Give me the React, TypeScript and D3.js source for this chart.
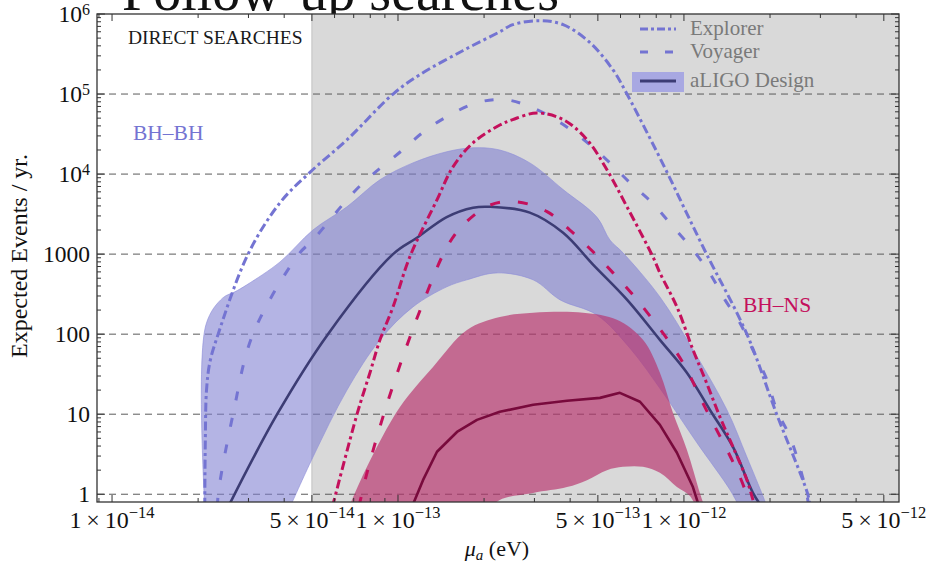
import React, { useEffect, useRef } from "react";
import * as d3 from "d3";

// [mu_a (eV), expected events / yr]
const bhbhExplorer = [
  [2.11e-14, 0.7], [2.12e-14, 5], [2.14e-14, 20], [2.2e-14, 45], [2.35e-14, 100],
  [2.99e-14, 1000], [3.87e-14, 4400], [4.92e-14, 1.05e4], [6.63e-14, 2.68e4],
  [9.61e-14, 1.0e5], [1.19e-13, 1.74e5], [1.69e-13, 3.5e5], [2.27e-13, 6.0e5],
  [2.52e-13, 7.35e5], [3.14e-13, 8.25e5], [3.78e-13, 7.35e5], [4.69e-13, 4.4e5],
  [5.65e-13, 2.0e5], [6.32e-13, 1.0e5], [7.43e-13, 3.3e4], [8.79e-13, 1.0e4],
  [1.02e-12, 3.3e3], [1.2e-12, 1000], [1.66e-12, 100], [2.11e-12, 10],
  [2.71e-12, 1], [2.76e-12, 0.7],
];

const bhbhVoyager = [
  [2.34e-14, 0.7], [2.35e-14, 1], [2.65e-14, 10], [3.11e-14, 100], [4.5e-14, 1000],
  [5.04e-14, 1.5e3], [6.96e-14, 5.8e3], [8.18e-14, 1.0e4], [1.02e-13, 1.9e4],
  [1.22e-13, 3.3e4], [1.48e-13, 5.2e4], [1.89e-13, 7.8e4], [2.37e-13, 8.5e4],
  [2.97e-13, 6.7e4], [3.69e-13, 4.4e4], [4.58e-13, 2.5e4], [5.51e-13, 1.38e4],
  [6.47e-13, 7.8e3], [7.73e-13, 4.4e3], [9.15e-13, 2.2e3], [1.075e-12, 1.13e3],
  [1.23e-12, 580], [1.39e-12, 270], [1.57e-12, 138], [1.74e-12, 64],
  [1.95e-12, 27], [2.11e-12, 11.3], [2.35e-12, 5.2], [2.54e-12, 2.2],
  [2.69e-12, 1], [2.73e-12, 0.7],
];

const bhbhDesign = [
  [2.55e-14, 0.7], [3.78e-14, 10], [5.69e-14, 100], [9.61e-14, 1000],
  [1.165e-13, 1.6e3], [1.48e-13, 2.9e3], [1.83e-13, 3.8e3], [2.1e-13, 3.9e3],
  [2.89e-13, 3.3e3], [3.78e-13, 1.85e3], [4.81e-13, 740], [6.32e-13, 270],
  [8.24e-13, 85], [1.024e-12, 33], [1.233e-12, 11.3], [1.484e-12, 3.9],
  [1.743e-12, 1.04], [1.87e-12, 0.7],
];

const bhbhBandUpper = [
  [2.11e-14, 0.7], [2.13e-14, 131], [2.44e-14, 284], [2.69e-14, 338],
  [2.96e-14, 413], [3.87e-14, 800], [5.04e-14, 2.0e3], [6.63e-14, 3.9e3],
  [8.65e-14, 8.5e3], [1.128e-13, 1.38e4], [1.48e-13, 1.9e4], [1.83e-13, 2.13e4],
  [2.27e-13, 2.0e4], [2.89e-13, 1.38e4], [3.78e-13, 6.4e3], [4.96e-13, 2.9e3],
  [5.51e-13, 1.5e3], [6.12e-13, 1.04e3], [8.24e-13, 292], [1.075e-12, 64],
  [1.414e-12, 11.3], [1.661e-12, 2.9], [1.889e-12, 0.95], [1.95e-12, 0.7],
];

const bhbhBandLower = [
  [4.2e-14, 0.7], [5.04e-14, 2.9], [6.63e-14, 20], [8.65e-14, 85],
  [1.128e-13, 219], [1.48e-13, 390], [1.74e-13, 477], [2.22e-13, 583],
  [2.97e-13, 477], [3.69e-13, 268], [4.96e-13, 174], [6.47e-13, 67],
  [8.45e-13, 18.5], [1.11e-12, 4.4], [1.45e-12, 1.13], [1.56e-12, 0.7],
];

const nsBandUpper = [
  [6.75e-14, 0.7], [7.79e-14, 2.2], [1.016e-13, 12.3], [1.326e-13, 39],
  [1.743e-13, 113], [2.27e-13, 164], [2.97e-13, 185], [4.44e-13, 185],
  [5.83e-13, 151], [7.19e-13, 85], [8.24e-13, 33], [9.15e-13, 10.4],
  [1.024e-12, 3.6], [1.137e-12, 1.04], [1.18e-12, 0.7],
];

const nsBandLower = [
  [6.75e-14, 0.5], [1.9e-13, 0.5], [2.27e-13, 0.85], [2.97e-13, 1.04],
  [3.9e-13, 1.23], [4.58e-13, 1.5], [5.38e-13, 2.0], [6.12e-13, 2.2],
  [7.19e-13, 2.2], [8.24e-13, 1.85], [9.45e-13, 1.23], [1.05e-12, 0.95],
  [1.12e-12, 0.6],
];

const nsExplorer = [
  [5.9e-14, 0.7], [7.19e-14, 10], [7.98e-14, 33], [8.65e-14, 85], [9.61e-14, 219],
  [1.1e-13, 925], [1.37e-13, 4.8e3], [1.557e-13, 1.23e4], [1.83e-13, 2.46e4],
  [2.27e-13, 4.1e4], [2.52e-13, 4.8e4], [3.06e-13, 5.8e4], [3.78e-13, 4.8e4],
  [4.58e-13, 2.7e4], [5.38e-13, 1.13e4], [6.32e-13, 3.9e3], [7.79e-13, 925],
  [8.24e-13, 583], [9.45e-13, 219], [1.075e-12, 64], [1.2e-12, 24.6],
  [1.336e-12, 9.25], [1.484e-12, 3.9], [1.661e-12, 1.5], [1.743e-12, 0.85],
  [1.77e-12, 0.7],
];

const nsVoyager = [
  [7.3e-14, 0.7], [7.79e-14, 1.85], [8.86e-14, 9.25], [1.04e-13, 52],
  [1.223e-13, 246], [1.484e-13, 1.23e3], [1.688e-13, 2.3e3], [2.1e-13, 4.1e3],
  [2.61e-13, 4.5e3], [3.32e-13, 3.4e3], [3.99e-13, 2.0e3], [4.81e-13, 1.07e3],
  [5.65e-13, 583], [6.63e-13, 310], [7.79e-13, 151], [9.15e-13, 69],
  [1.024e-12, 36], [1.137e-12, 16.4], [1.263e-12, 7.8], [1.414e-12, 3.6],
  [1.57e-12, 1.64], [1.7e-12, 0.8], [1.73e-12, 0.7],
];

const nsDesign = [
  [1.12e-13, 0.7], [1.223e-13, 1.5], [1.369e-13, 3.4], [1.608e-13, 6.0],
  [1.889e-13, 8.5], [2.27e-13, 10.7], [2.97e-13, 13.1], [3.9e-13, 14.7],
  [5.085e-13, 16], [5.97e-13, 18.5], [7.02e-13, 14.3], [8.24e-13, 7.35],
  [9.45e-13, 3.3], [1.075e-12, 1.23], [1.13e-12, 0.7],
];

const directSearchEdge = 5e-14;

const xMajorTicks = [1e-14, 5e-14, 1e-13, 5e-13, 1e-12, 5e-12];
const xTickMantissa = ["1", "5", "1", "5", "1", "5"];
const xTickExponent = ["\u221214", "\u221214", "\u221213", "\u221213", "\u221212", "\u221212"];

const yMajorTicks = [1, 10, 100, 1000, 1e4, 1e5, 1e6];
const yTickBase = ["1", "10", "100", "1000", "10", "10", "10"];
const yTickExponent = ["", "", "", "", "4", "5", "6"];
const yGridLines = [1, 10, 100, 1000, 1e4, 1e5];

const legendNames = ["Explorer", "Voyager", "aLIGO Design"];

export default function App() {
  const ref = useRef<SVGSVGElement>(null);

  useEffect(() => {
    if (!ref.current) return;
    const svg = d3.select(ref.current);
    svg.selectAll("*").remove();

    const left = 97, right = 899, top = 14, bottom = 502;
    const serif = "'Liberation Serif', 'Times New Roman', serif";

    const x = d3.scaleLog().domain([8.86e-15, 5.65e-12]).range([left, right]);
    const y = d3.scaleLog().domain([0.8, 1e6]).range([bottom, top]);

    const blue = "#7474d2";
    const navy = "#3c3c74";
    const crimson = "#c4105c";
    const wine = "#780a3c";

    // title of the slide, cut by the top of the picture
    svg.append("text")
      .attr("x", 122).attr("y", 10)
      .attr("font-family", serif).attr("font-size", 56)
      .attr("fill", "#111")
      .text("Follow-up searches");

    svg.append("defs").append("clipPath").attr("id", "plotclip")
      .append("rect")
      .attr("x", left).attr("y", top)
      .attr("width", right - left).attr("height", bottom - top);

    svg.append("rect")
      .attr("x", left).attr("y", top)
      .attr("width", right - left).attr("height", bottom - top)
      .attr("fill", "#fff");

    // excluded by direct searches
    svg.append("rect")
      .attr("x", x(directSearchEdge)).attr("y", top)
      .attr("width", right - x(directSearchEdge)).attr("height", bottom - top)
      .attr("fill", "#d9d9d9");
    svg.append("line")
      .attr("x1", x(directSearchEdge)).attr("x2", x(directSearchEdge))
      .attr("y1", top).attr("y2", bottom)
      .attr("stroke", "#c8c8c8").attr("stroke-width", 1.2);

    // grid
    svg.append("g").selectAll("line").data(yGridLines).enter().append("line")
      .attr("x1", left).attr("x2", right)
      .attr("y1", (d) => y(d)).attr("y2", (d) => y(d))
      .attr("stroke", "#5a5a5a").attr("stroke-width", 1)
      .attr("stroke-dasharray", "7,5");

    const plot = svg.append("g").attr("clip-path", "url(#plotclip)");

    const smooth = d3.line<number[]>()
      .x((d) => x(d[0])).y((d) => y(d[1]))
      .curve(d3.curveCatmullRom.alpha(0.5));
    const straight = d3.line<number[]>()
      .x((d) => x(d[0])).y((d) => y(d[1]));

    const band = (upper: number[][], lower: number[][]) =>
      smooth(upper) + "L" + (smooth(lower.slice().reverse()) as string).slice(1) + "Z";

    plot.append("path")
      .attr("d", band(bhbhBandUpper, bhbhBandLower))
      .attr("fill", "#7e7ed0").attr("fill-opacity", 0.58)
      .attr("stroke", "#8c8cd8").attr("stroke-width", 1).attr("stroke-opacity", 0.6);

    plot.append("path")
      .attr("d", band(nsBandUpper, nsBandLower))
      .attr("fill", "#b8306c").attr("fill-opacity", 0.66);

    const curve = (data: number[][], color: string, dash: string | null, width: number, gen = smooth) => {
      const p = plot.append("path")
        .attr("d", gen(data))
        .attr("fill", "none")
        .attr("stroke", color)
        .attr("stroke-width", width)
        .attr("stroke-linejoin", "round");
      if (dash) p.attr("stroke-dasharray", dash);
    };

    curve(bhbhExplorer, blue, "9,3.5,3,3.5", 3);
    curve(bhbhVoyager, blue, "9,18", 3);
    curve(bhbhDesign, navy, null, 2.6);
    curve(nsExplorer, crimson, "9,3.5,3,3.5", 3);
    curve(nsVoyager, crimson, "10,18", 3);
    curve(nsDesign, wine, null, 2.6, straight);

    // ticks
    const axisColor = "#333";
    const yMinor: number[] = [];
    for (let e = 0; e < 6; e++) for (let k = 2; k <= 9; k++) yMinor.push(k * Math.pow(10, e));
    const xMinor: number[] = [];
    for (let e = -15; e <= -12; e++)
      for (let k = 1; k <= 9; k++) {
        const v = k * Math.pow(10, e);
        if (v > 8.86e-15 && v < 5.65e-12 && k !== 1 && k !== 5) xMinor.push(v);
      }

    const ticks = svg.append("g").attr("stroke", axisColor).attr("stroke-width", 1);
    yMajorTicks.concat(yMinor).forEach((v) => {
      const len = yMajorTicks.includes(v) ? 8 : 4;
      ticks.append("line").attr("x1", left).attr("x2", left + len).attr("y1", y(v)).attr("y2", y(v));
      ticks.append("line").attr("x1", right).attr("x2", right - len).attr("y1", y(v)).attr("y2", y(v));
    });
    xMajorTicks.concat(xMinor).forEach((v) => {
      const len = xMajorTicks.includes(v) ? 7 : 4;
      ticks.append("line").attr("x1", x(v)).attr("x2", x(v)).attr("y1", bottom).attr("y2", bottom - len);
      ticks.append("line").attr("x1", x(v)).attr("x2", x(v)).attr("y1", top).attr("y2", top + len);
    });

    svg.append("rect")
      .attr("x", left).attr("y", top)
      .attr("width", right - left).attr("height", bottom - top)
      .attr("fill", "none").attr("stroke", axisColor).attr("stroke-width", 1.3);

    // y tick labels
    yMajorTicks.forEach((v, i) => {
      const t = svg.append("text")
        .attr("x", 90).attr("y", y(v)).attr("dy", "0.35em")
        .attr("text-anchor", "end")
        .attr("font-family", serif).attr("font-size", 23.5).attr("fill", "#111");
      t.append("tspan").text(yTickBase[i]);
      if (yTickExponent[i]) t.append("tspan").attr("dy", "-0.45em").attr("font-size", 16).text(yTickExponent[i]);
    });

    // x tick labels
    xMajorTicks.forEach((v, i) => {
      const t = svg.append("text")
        .attr("x", x(v)).attr("y", 528)
        .attr("text-anchor", "middle")
        .attr("font-family", serif).attr("font-size", 24).attr("fill", "#111");
      t.append("tspan").text(xTickMantissa[i] + "\u2009\u00d7\u200910");
      t.append("tspan").attr("dy", -10).attr("font-size", 16.5).text(xTickExponent[i]);
    });

    // axis titles
    const xt = svg.append("text")
      .attr("x", 497).attr("y", 556).attr("text-anchor", "middle")
      .attr("font-family", serif).attr("font-size", 22).attr("fill", "#111");
    xt.append("tspan").attr("font-style", "italic").text("\u03bc");
    xt.append("tspan").attr("font-style", "italic").attr("font-size", 15).attr("dy", 4).text("a");
    xt.append("tspan").attr("dy", -4).text(" (eV)");

    svg.append("text")
      .attr("transform", "translate(27,256) rotate(-90)")
      .attr("text-anchor", "middle")
      .attr("font-family", serif).attr("font-size", 24).attr("fill", "#111")
      .text("Expected Events / yr.");

    // annotations
    svg.append("text")
      .attr("x", 128).attr("y", 44)
      .attr("font-family", serif).attr("font-size", 19.5).attr("fill", "#1a1a1a")
      .text("DIRECT SEARCHES");
    svg.append("text")
      .attr("x", 133).attr("y", 140)
      .attr("font-family", serif).attr("font-size", 21.5).attr("fill", blue)
      .text("BH\u2013BH");
    svg.append("text")
      .attr("x", 743).attr("y", 312)
      .attr("font-family", serif).attr("font-size", 21.5).attr("fill", crimson)
      .text("BH\u2013NS");

    // legend
    const legend = svg.append("g");
    legend.append("rect")
      .attr("x", 632).attr("y", 72).attr("width", 52).attr("height", 20)
      .attr("fill", "#a8a8e2");
    const legendY = [29, 52, 81];
    const legendDash = ["8,3,3,3", "8,17", null];
    const legendColor = [blue, blue, navy];
    legendNames.forEach((name, i) => {
      const l = legend.append("line")
        .attr("x1", 640).attr("x2", 676)
        .attr("y1", legendY[i]).attr("y2", legendY[i])
        .attr("stroke", legendColor[i]).attr("stroke-width", 3);
      if (legendDash[i]) l.attr("stroke-dasharray", legendDash[i] as string);
      legend.append("text")
        .attr("x", 690).attr("y", legendY[i] + 6)
        .attr("font-family", serif).attr("font-size", 21).attr("fill", "#7a7a7a")
        .text(name);
    });
  }, []);

  return (
    <svg
      ref={ref}
      width={928}
      height={568}
      style={{ position: "absolute", left: 0, top: 0, background: "#fff" }}
    />
  );
}
